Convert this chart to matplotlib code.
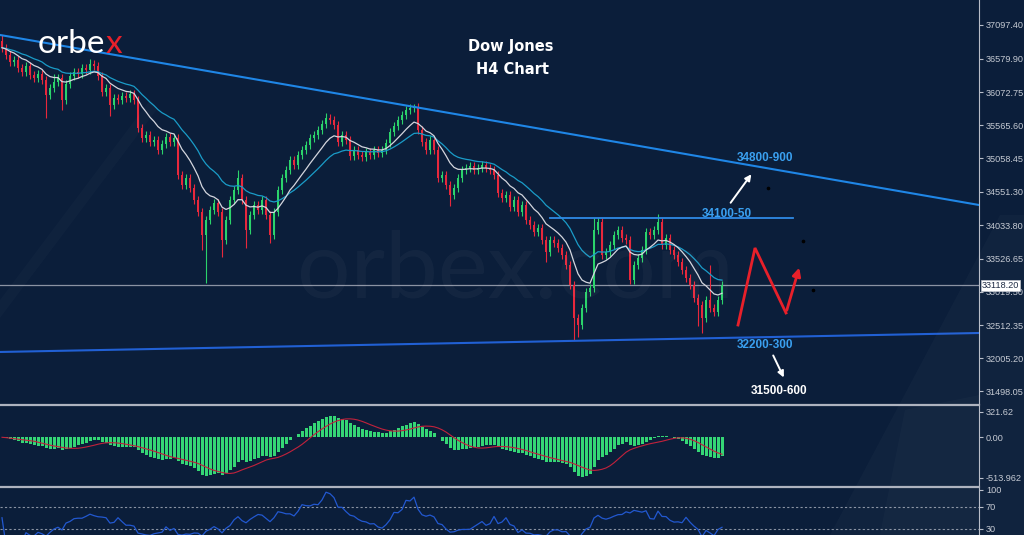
import matplotlib
matplotlib.use('Agg')
import matplotlib.pyplot as plt
import numpy as np
import pandas as pd
from matplotlib.lines import Line2D
from matplotlib.patches import Polygon

W, H = 1024, 535
BG = '#0b1e3a'
GREEN = '#2bd36b'
RED = '#e8283c'
AXIS = '#b8bdc8'
LABEL = '#c4c9d2'

# H4 candles (close prices)
first_open = 36850
closes = [
    36750, 36640, 36530, 36560, 36440, 36380, 36470, 36330, 36290, 36350,
    36260, 36030, 36130, 36230, 36290, 35950, 36200, 36320, 36380, 36350,
    36440, 36410, 36500, 36470, 36320, 36070, 36130, 35880, 35980, 35950,
    36010, 35980, 36040, 35950, 35520, 35370, 35420, 35310, 35340, 35190,
    35280, 35390, 35310, 35370, 34810, 34650, 34760, 34610, 34420, 34240,
    33890, 34120, 34270, 34380, 34240, 33810, 34120, 34420, 34580, 34760,
    34420, 33970, 34200, 34350, 34270, 34420, 34200, 33890, 34240, 34580,
    34760, 34880, 35040, 34960, 35110, 35190, 35260, 35370, 35420, 35490,
    35590, 35680, 35650, 35570, 35310, 35420, 35340, 35100, 35190, 35110,
    35080, 35160, 35110, 35190, 35140, 35190, 35300, 35460, 35560, 35650,
    35720, 35800, 35830, 35850, 35490, 35310, 35190, 35340, 35190, 34760,
    34810, 34650, 34500, 34610, 34760, 34880, 34910, 34940, 34880, 34910,
    34960, 34910, 34880, 34810, 34530, 34460, 34500, 34320, 34420, 34240,
    34350, 34120, 34040, 33940, 34000, 33810, 33630, 33810, 33770, 33690,
    33580, 33430, 33120, 32620, 32510, 32770, 33020, 33080, 33970, 34090,
    33580, 33630, 33740, 33890, 33970, 33840, 33810, 33200, 33430, 33540,
    33660, 33940, 33890, 33970, 34090, 33740, 33840, 33660, 33580, 33480,
    33350, 33230, 33120, 32930, 32820, 32620, 32900, 32770, 32710, 32900,
    33118.20,
]
# long wicks
high_marks = {0: 36950, 13: 36350, 22: 36580, 59: 34880, 81: 35750, 103: 35890,
              148: 34150, 149: 34150, 164: 34210, 177: 33430}
low_marks = {11: 35680, 15: 35800, 27: 35700, 50: 33660, 51: 33160, 55: 33550,
             61: 33690, 67: 33770, 112: 34330, 136: 33480, 143: 32280, 144: 32330,
             174: 32500, 175: 32390}
wick = 60

price_ticks = [37097.40, 36579.90, 36072.75, 35565.60, 35058.45, 34551.30,
               34033.80, 33526.65, 33019.50, 32512.35, 32005.20, 31498.05]
macd_ticks = [321.62, 0.0, -513.962]
macd_labels = ['321.62', '0.00', '-513.962']
rsi_ticks = [100, 70, 30]
last_price = 33118.20

# analyst drawings (bar index, price)
upper_trend = [(-0.5, 36945), (244.25, 34347)]
lower_trend = [(-0.5, 32101), (244.25, 32391)]
resistance = [(137, 34150), (197.75, 34150)]
zigzag = [(184, 32513), (188.25, 33690), (196, 32697), (199.5, 33430)]
arrow_up = [(181.75, 34347), (187.75, 34851)]
arrow_down = [(192.5, 32086), (195.75, 31673)]
dots = [(191.5, 34607), (200.25, 33797), (202.75, 33048)]
level_texts = ['34800-900', '34100-50', '32200-300', '31500-600']
level_pos = [(190.75, 35065), (181.25, 34210), (190.75, 32208), (194.25, 31505)]
level_colors = ['#3aa0f0', '#3aa0f0', '#3aa0f0', 'white']

c = pd.Series(closes, dtype=float)
o = c.shift(1).fillna(first_open)
hi = np.maximum(o, c) + wick
lo = np.minimum(o, c) - wick
for k, v in high_marks.items():
    hi[k] = v
for k, v in low_marks.items():
    lo[k] = v
idx = np.arange(len(c))

ema_fast = c.ewm(span=10, adjust=False).mean()
ema_slow = c.ewm(span=21, adjust=False).mean()
macd = c.ewm(span=12, adjust=False).mean() - c.ewm(span=26, adjust=False).mean()
signal = macd.rolling(9, min_periods=1).mean()
delta = c.diff().fillna(0)
gain = delta.clip(lower=0).rolling(14, min_periods=1).mean()
loss = (-delta.clip(upper=0)).rolling(14, min_periods=1).mean()
rsi = 100 * gain / (gain + loss).replace(0, np.nan)
rsi = rsi.fillna(50)

fig = plt.figure(figsize=(W / 100, H / 100), dpi=100, facecolor=BG)


def box(top, bottom):
    return [0, 1 - bottom / H, 979 / W, (bottom - top) / H]


# faint background shapes
for pts, a in [([(0, 300), (150, 100), (158, 108), (0, 318)], 0.02),
               ([(830, 535), (1000, 215), (1024, 215), (1024, 535)], 0.025),
               ([(880, 535), (905, 410), (979, 395), (979, 535)], 0.02)]:
    fig.add_artist(Polygon([(x / W, 1 - y / H) for x, y in pts], closed=True,
                           transform=fig.transFigure, color='white', alpha=a, lw=0))

ax = fig.add_axes(box(0, 404))
ax_m = fig.add_axes(box(406, 485))
ax_r = fig.add_axes(box(488, 535))
xlim = (-0.5, 244.25)

for a in (ax, ax_m, ax_r):
    a.set_facecolor('none')
    a.set_xlim(*xlim)
    a.set_xticks([])
    for s in ('top', 'left', 'bottom'):
        a.spines[s].set_visible(False)
    a.spines['right'].set_color(AXIS)
    a.yaxis.tick_right()
    a.tick_params(axis='y', colors=AXIS, labelcolor=LABEL, length=3, width=0.8,
                  labelsize=6.6, pad=2)

# main price panel
ax.set_ylim(31306, 37479.4)
ax.set_yticks(price_ticks)
ax.set_yticklabels(['%.2f' % p for p in price_ticks], family='Liberation Sans')

fig.text(515 / W, 1 - 272 / H, 'orbex.com', fontsize=68, family='Lato',
         color='white', alpha=0.035, ha='center', va='center')

up = c >= o
cols = np.where(up, GREEN, RED)
ax.vlines(idx, lo, hi, colors=cols, lw=0.8, zorder=3)
body = np.maximum(np.abs(c - o), 25)
ax.bar(idx, body, bottom=np.minimum(o, c), width=0.7, color=cols, lw=0, zorder=4)
ax.plot(idx, ema_slow, color='#1a9cc8', lw=0.9, zorder=5)
ax.plot(idx, ema_fast, color='#d4d6de', lw=0.9, zorder=6)

ax.axhline(last_price, color='#8b93a3', lw=0.9, zorder=2)
ax.plot(*zip(*upper_trend), color='#1f86e6', lw=1.5, zorder=7)
ax.plot(*zip(*lower_trend), color='#2160d4', lw=1.5, zorder=7)
ax.plot(*zip(*resistance), color='#2f8ae6', lw=1.3, zorder=7)
ax.plot(*zip(*zigzag[:3]), color='#e8202a', lw=2.0, zorder=8, solid_joinstyle='miter')
ax.annotate('', xy=zigzag[3], xytext=zigzag[2],
            arrowprops=dict(arrowstyle='-|>', color='#e8202a', lw=2.0, mutation_scale=12))
for a0, a1 in (arrow_up, arrow_down):
    ax.annotate('', xy=a1, xytext=a0,
                arrowprops=dict(arrowstyle='-|>', color='white', lw=1.4, mutation_scale=9))
ax.plot(*zip(*dots), 'o', color='black', ms=1.6, zorder=8)
for txt, (x, y), col in zip(level_texts, level_pos, level_colors):
    ax.text(x, y, txt, color=col, fontsize=8.5, fontweight='bold',
            family='Liberation Sans', ha='center', va='center', zorder=9)

ax.annotate('%.2f' % last_price, xy=(1.003, last_price),
            xycoords=('axes fraction', 'data'), ha='left', va='center', fontsize=6.6,
            family='Liberation Sans', color='#1a2740',
            bbox=dict(boxstyle='square,pad=0.12', fc='white', ec='#c0c4cc', lw=0.5),
            annotation_clip=False, zorder=10)

fig.text(511 / W, 1 - 46 / H, 'Dow Jones', color='white', fontsize=10.5,
         fontweight='bold', ha='center', va='center')
fig.text(512 / W, 1 - 69 / H, 'H4 Chart', color='white', fontsize=10.5,
         fontweight='bold', ha='center', va='center')

# logo
t = fig.text(38 / W, 1 - 53 / H, 'orbe', color='white', fontsize=24, family='Lato',
             va='baseline')
fig.canvas.draw()
bb = t.get_window_extent()
fig.text(bb.x1 / W, 1 - 53 / H, 'x', color='#e8202a', fontsize=24,
         family='Lato', va='baseline')

# MACD panel
ax_m.set_ylim(-604, 396)
ax_m.bar(idx, macd, width=0.75, color='#35d675', lw=0, zorder=3)
ax_m.plot(idx, signal, color='#c2223c', lw=0.8, zorder=4)
ax_m.set_yticks(macd_ticks)
ax_m.set_yticklabels(macd_labels, family='Liberation Sans')

# RSI panel
ax_r.set_ylim(18.9, 103.5)
for lvl in (70, 30):
    ax_r.axhline(lvl, color='#8a93a3', lw=0.8, ls=(0, (2, 2)))
ax_r.plot(idx, rsi, color='#2258d0', lw=0.9)
ax_r.set_yticks(rsi_ticks)
ax_r.set_yticklabels([str(v) for v in rsi_ticks], family='Liberation Sans')

# panel separators
for y in (404.5, 486.5):
    fig.add_artist(Line2D([0, 979 / W], [1 - y / H] * 2, color='#aeb3bf', lw=1.6,
                          transform=fig.transFigure))

fig.savefig('out.png', dpi=100, facecolor=BG)
